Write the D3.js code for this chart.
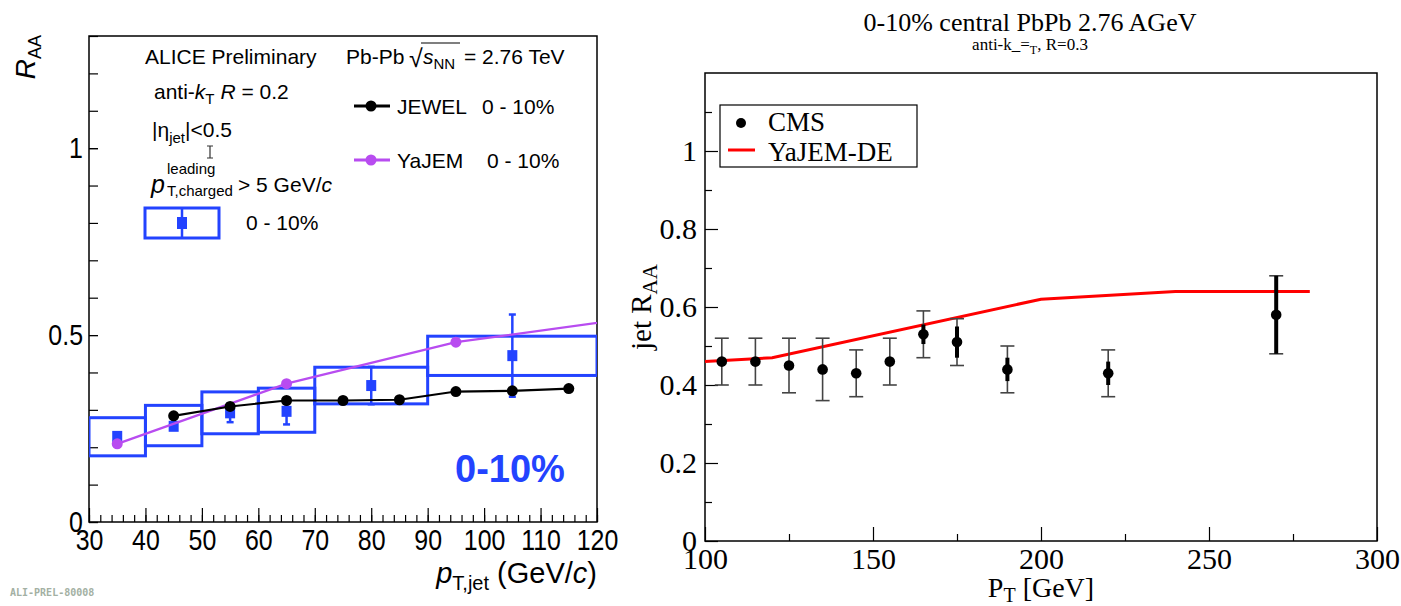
<!DOCTYPE html>
<html>
<head>
<meta charset="utf-8">
<script src="https://cdn.jsdelivr.net/npm/d3@7"></script>
<style>
  html, body { margin: 0; padding: 0; background: #fff; }
  svg { display: block; }
</style>
</head>
<body>
<svg id="chart" width="1401" height="606"></svg>
<script>
// ---------- ALICE panel data ----------
const aliceBinLo = [30, 40, 50, 60, 70, 90];
const aliceBinHi = [40, 50, 60, 70, 90, 120];
const alicePt    = [35, 45, 55, 65, 80, 105];
const aliceRaa   = [0.229, 0.256, 0.292, 0.296, 0.365, 0.445];
const aliceStat  = [0.008, 0.008, 0.025, 0.035, 0.05, 0.11];
const aliceSysLo = [0.177, 0.204, 0.236, 0.240, 0.316, 0.392];
const aliceSysHi = [0.279, 0.312, 0.348, 0.358, 0.414, 0.497];

const jewelPt  = [45, 55, 65, 75, 85, 95, 105, 115];
const jewelRaa = [0.284, 0.309, 0.325, 0.325, 0.327, 0.349, 0.351, 0.357];

const yajemPt  = [35, 65, 95, 125];
const yajemRaa = [0.209, 0.370, 0.481, 0.543];

const leftXTicks = [30, 40, 50, 60, 70, 80, 90, 100, 110, 120];
const leftYTicks = [0, 0.5, 1];

// ---------- CMS panel data ----------
const cmsPt   = [105, 115, 125, 135, 145, 155, 165, 175, 190, 220, 270];
const cmsRaa  = [0.46, 0.46, 0.45, 0.44, 0.43, 0.46, 0.53, 0.51, 0.44, 0.43, 0.58];
const cmsSys  = [0.06, 0.06, 0.07, 0.08, 0.06, 0.06, 0.06, 0.06, 0.06, 0.06, 0.10];
const cmsStat = [0.01, 0.01, 0.01, 0.01, 0.01, 0.01, 0.025, 0.04, 0.03, 0.03, 0.10];

const yajemDePt  = [100, 120, 200, 240, 280];
const yajemDeRaa = [0.46, 0.47, 0.62, 0.64, 0.64];

const rightXTicks = [100, 150, 200, 250, 300];
const rightYTicks = [0, 0.2, 0.4, 0.6, 0.8, 1];

// ---------- colours ----------
const BLUE = "#2343ff";
const VIOLET = "#b84cf0";
const RED = "#ff0000";

const svg = d3.select("#chart");
const SANS = "'Liberation Sans', Arial, Helvetica, sans-serif";
const SERIF = "'Liberation Serif', 'Times New Roman', serif";

// ======================================================
// Left panel: ALICE charged-jet RAA
// ======================================================
const xL = d3.scaleLinear().domain([30, 120]).range([89, 597]);
const yL = d3.scaleLinear().domain([0, 1.3]).range([522, 36]);
const left = svg.append("g");

left.append("clipPath").attr("id", "clipL")
  .append("rect").attr("x", xL(30)).attr("y", yL(1.3))
  .attr("width", xL(120) - xL(30)).attr("height", yL(0) - yL(1.3));

function styleAxis(g, font, size, sx) {
  g.select(".domain").remove();
  g.selectAll("line").attr("stroke", "#000").attr("stroke-width", 1.2);
  g.selectAll("text").attr("fill", "#000")
    .style("font-family", font).style("font-size", size + "px")
    .attr("transform", sx ? `scale(${sx},1)` : null);
}

// x axis (minor then major)
left.append("g").attr("transform", `translate(0,${yL(0)})`)
  .call(d3.axisBottom(xL).tickValues(d3.range(30, 121, 2)).tickSize(-7).tickFormat(""))
  .call(g => styleAxis(g, SANS, 10));
left.append("g").attr("transform", `translate(0,${yL(0)})`)
  .call(d3.axisBottom(xL).tickValues(leftXTicks).tickSize(-14).tickPadding(7).tickFormat(d3.format("d")))
  .call(g => styleAxis(g, SANS, 29, 0.86));

// y axis
left.append("g").attr("transform", `translate(${xL(30)},0)`)
  .call(d3.axisLeft(yL).tickValues(d3.range(0, 1.31, 0.1)).tickSize(-9).tickFormat(""))
  .call(g => styleAxis(g, SANS, 10));
left.append("g").attr("transform", `translate(${xL(30)},0)`)
  .call(d3.axisLeft(yL).tickValues(leftYTicks).tickSize(-9).tickPadding(7).tickFormat(d => String(d)))
  .call(g => styleAxis(g, SANS, 29, 0.86));

// frame
left.append("rect").attr("x", xL(30)).attr("y", yL(1.3))
  .attr("width", xL(120) - xL(30)).attr("height", yL(0) - yL(1.3))
  .attr("fill", "none").attr("stroke", "#000").attr("stroke-width", 1.5);

const plotL = left.append("g").attr("clip-path", "url(#clipL)");

// systematic boxes
plotL.selectAll("rect.sys").data(aliceBinLo).join("rect")
  .attr("x", (d, i) => xL(aliceBinLo[i]))
  .attr("y", (d, i) => yL(aliceSysHi[i]))
  .attr("width", (d, i) => xL(aliceBinHi[i]) - xL(aliceBinLo[i]))
  .attr("height", (d, i) => yL(aliceSysLo[i]) - yL(aliceSysHi[i]))
  .attr("fill", "none").attr("stroke", BLUE).attr("stroke-width", 3);

// data points with statistical errors
alicePt.forEach((pt, i) => {
  const cx = xL(pt);
  const g = plotL.append("g");
  g.append("line").attr("x1", cx).attr("x2", cx)
    .attr("y1", yL(aliceRaa[i] - aliceStat[i])).attr("y2", yL(aliceRaa[i] + aliceStat[i]))
    .attr("stroke", BLUE).attr("stroke-width", 2.5);
  [aliceRaa[i] - aliceStat[i], aliceRaa[i] + aliceStat[i]].forEach(v => {
    g.append("line").attr("x1", cx - 3.5).attr("x2", cx + 3.5)
      .attr("y1", yL(v)).attr("y2", yL(v)).attr("stroke", BLUE).attr("stroke-width", 2.5);
  });
  g.append("rect").attr("x", cx - 5).attr("y", yL(aliceRaa[i]) - 5.5)
    .attr("width", 10).attr("height", 11).attr("fill", BLUE);
});

const lineL = d3.line().x(d => xL(d[0])).y(d => yL(d[1]));

// YaJEM curve
plotL.append("path").datum(yajemPt.map((p, i) => [p, yajemRaa[i]]))
  .attr("d", lineL).attr("fill", "none").attr("stroke", VIOLET).attr("stroke-width", 2.2);
plotL.selectAll("circle.yajem").data(yajemPt).join("circle")
  .attr("cx", d => xL(d)).attr("cy", (d, i) => yL(yajemRaa[i])).attr("r", 5.5).attr("fill", VIOLET);

// JEWEL curve
plotL.append("path").datum(jewelPt.map((p, i) => [p, jewelRaa[i]]))
  .attr("d", lineL).attr("fill", "none").attr("stroke", "#000").attr("stroke-width", 2.2);
plotL.selectAll("circle.jewel").data(jewelPt).join("circle")
  .attr("cx", d => xL(d)).attr("cy", (d, i) => yL(jewelRaa[i])).attr("r", 5.5).attr("fill", "#000");

// text helper for the ALICE panel
function ltext(x, y, size, opts = {}) {
  const t = left.append("text")
    .attr("transform", `translate(${x},${y}) scale(${opts.sx || 1},1)`)
    .style("font-family", SANS).style("font-size", size + "px")
    .attr("fill", opts.fill || "#000");
  if (opts.anchor) t.attr("text-anchor", opts.anchor);
  if (opts.weight) t.style("font-weight", opts.weight);
  return t;
}
function span(t, str, o = {}) {
  const s = t.append("tspan").text(str);
  if (o.italic) s.style("font-style", "italic");
  if (o.size) s.style("font-size", o.size + "px");
  if (o.dy !== undefined) s.attr("dy", o.dy);
  if (o.x !== undefined) s.attr("x", o.x);
  return s;
}

// y-axis title
{
  const t = left.append("text")
    .attr("transform", "translate(35,35) rotate(-90)")
    .attr("text-anchor", "end")
    .style("font-family", SANS).style("font-size", "28px");
  span(t, "R", { italic: true });
  span(t, "AA", { size: 18, dy: 6 });
}

// x-axis title
{
  const t = ltext(597, 583, 29, { anchor: "end" });
  span(t, "p", { italic: true });
  span(t, "T,jet", { size: 20, dy: 7 });
  span(t, " (GeV/", { dy: -7 });
  span(t, "c", { italic: true });
  span(t, ")");
}

// header texts
ltext(145, 64, 21).text("ALICE Preliminary");
ltext(346, 64, 21).text("Pb-Pb");
ltext(409, 67, 25).text("\u221A");
{
  const t = ltext(423, 64, 21);
  span(t, "s", { italic: true });
  span(t, "NN", { size: 15, dy: 5 });
}
left.append("line").attr("x1", 421).attr("x2", 460).attr("y1", 43).attr("y2", 43)
  .attr("stroke", "#000").attr("stroke-width", 1.2);
ltext(464, 64, 21).text("= 2.76 TeV");

{
  const t = ltext(154, 99, 21);
  span(t, "anti-");
  span(t, "k", { italic: true });
  span(t, "T", { size: 15, dy: 5 });
  span(t, " ", { dy: -5 });
  span(t, "R", { italic: true });
  span(t, " = 0.2");
}
{
  const t = ltext(152, 137, 21);
  span(t, "|\u03B7");
  span(t, "jet", { size: 15, dy: 6 });
  span(t, "|<0.5", { dy: -6 });
}
// small error-bar glyph under the selection line
left.append("path").attr("d", "M207,146 H213 M210,146 V158 M207,158 H213")
  .attr("stroke", "#333").attr("stroke-width", 1.2).attr("fill", "none");
ltext(151, 193, 25).append("tspan").style("font-style", "italic").text("p");
ltext(167, 174, 15).text("leading");
ltext(167, 196, 15).text("T,charged");
{
  const t = ltext(238, 192, 21);
  span(t, "> 5 GeV/");
  span(t, "c", { italic: true });
}

// ALICE data legend entry
left.append("rect").attr("x", 145).attr("y", 208).attr("width", 74).attr("height", 30)
  .attr("fill", "none").attr("stroke", BLUE).attr("stroke-width", 3);
left.append("line").attr("x1", 182).attr("x2", 182).attr("y1", 208).attr("y2", 238)
  .attr("stroke", BLUE).attr("stroke-width", 2.5);
left.append("rect").attr("x", 177).attr("y", 217).attr("width", 10).attr("height", 12).attr("fill", BLUE);
ltext(246, 230, 21).text("0 - 10%");

// model legend entries
[["JEWEL", "#000", 106, 482], ["YaJEM", VIOLET, 160, 487]].forEach(([lab, col, y, xc]) => {
  left.append("line").attr("x1", 354).attr("x2", 390).attr("y1", y).attr("y2", y)
    .attr("stroke", col).attr("stroke-width", 3);
  left.append("circle").attr("cx", 371).attr("cy", y).attr("r", 5.5).attr("fill", col);
  ltext(397, y + 8, 21).text(lab);
  ltext(xc, y + 8, 21).text("0 - 10%");
});

// centrality label
ltext(455, 482, 38, { fill: BLUE, weight: "bold" }).text("0-10%");

// preliminary figure tag
svg.append("text").attr("x", 10).attr("y", 596)
  .style("font-family", "'DejaVu Sans Mono', 'Liberation Mono', monospace")
  .style("font-size", "10px").style("font-weight", "bold")
  .attr("fill", "#a3b0a3").text("ALI-PREL-80008");

// ======================================================
// Right panel: CMS jet RAA vs YaJEM-DE
// ======================================================
const xR = d3.scaleLinear().domain([100, 300]).range([705, 1377]);
const yR = d3.scaleLinear().domain([0, 1.2]).range([541, 73]);
const right = svg.append("g");

right.append("clipPath").attr("id", "clipR")
  .append("rect").attr("x", xR(100)).attr("y", yR(1.2))
  .attr("width", xR(300) - xR(100)).attr("height", yR(0) - yR(1.2));

right.append("g").attr("transform", `translate(0,${yR(0)})`)
  .call(d3.axisBottom(xR).tickValues([125, 175, 225, 275]).tickSize(-7).tickFormat(""))
  .call(g => styleAxis(g, SERIF, 10));
right.append("g").attr("transform", `translate(0,${yR(0)})`)
  .call(d3.axisBottom(xR).tickValues(rightXTicks).tickSize(-14).tickPadding(7).tickFormat(d3.format("d")))
  .call(g => styleAxis(g, SERIF, 30));

right.append("g").attr("transform", `translate(${xR(100)},0)`)
  .call(d3.axisLeft(yR).tickValues([0.1, 0.3, 0.5, 0.7, 0.9, 1.1]).tickSize(-7).tickFormat(""))
  .call(g => styleAxis(g, SERIF, 10));
right.append("g").attr("transform", `translate(${xR(100)},0)`)
  .call(d3.axisLeft(yR).tickValues(rightYTicks).tickSize(-13).tickPadding(8).tickFormat(d3.format("~g")))
  .call(g => styleAxis(g, SERIF, 30));

right.append("rect").attr("x", xR(100)).attr("y", yR(1.2))
  .attr("width", xR(300) - xR(100)).attr("height", yR(0) - yR(1.2))
  .attr("fill", "none").attr("stroke", "#000").attr("stroke-width", 1.5);

const plotR = right.append("g").attr("clip-path", "url(#clipR)");

// YaJEM-DE curve
plotR.append("path").datum(yajemDePt.map((p, i) => [p, yajemDeRaa[i]]))
  .attr("d", d3.line().x(d => xR(d[0])).y(d => yR(d[1])))
  .attr("fill", "none").attr("stroke", RED).attr("stroke-width", 3);

// CMS points: systematic bars (thin), statistical bars (thick), markers
cmsPt.forEach((pt, i) => {
  const cx = xR(pt), v = cmsRaa[i];
  const g = plotR.append("g");
  g.append("line").attr("x1", cx).attr("x2", cx)
    .attr("y1", yR(v - cmsSys[i])).attr("y2", yR(v + cmsSys[i]))
    .attr("stroke", "#444").attr("stroke-width", 1.6);
  [v - cmsSys[i], v + cmsSys[i]].forEach(e => {
    g.append("line").attr("x1", cx - 7).attr("x2", cx + 7)
      .attr("y1", yR(e)).attr("y2", yR(e)).attr("stroke", "#444").attr("stroke-width", 1.6);
  });
  g.append("line").attr("x1", cx).attr("x2", cx)
    .attr("y1", yR(v - cmsStat[i])).attr("y2", yR(v + cmsStat[i]))
    .attr("stroke", "#000").attr("stroke-width", 4);
  g.append("circle").attr("cx", cx).attr("cy", yR(v)).attr("r", 5.3).attr("fill", "#000");
});

// legend
right.append("rect").attr("x", 720).attr("y", 105).attr("width", 197).attr("height", 62)
  .attr("fill", "#fff").attr("stroke", "#000").attr("stroke-width", 1.2);
right.append("circle").attr("cx", 741).attr("cy", 123).attr("r", 5).attr("fill", "#000");
right.append("line").attr("x1", 728).attr("x2", 755).attr("y1", 150).attr("y2", 150)
  .attr("stroke", RED).attr("stroke-width", 3);
right.append("text").attr("x", 768).attr("y", 131)
  .style("font-family", SERIF).style("font-size", "27px").text("CMS");
right.append("text").attr("x", 768).attr("y", 161)
  .style("font-family", SERIF).style("font-size", "27px").text("YaJEM-DE");

// titles
right.append("text").attr("x", 1030).attr("y", 31).attr("text-anchor", "middle")
  .style("font-family", SERIF).style("font-size", "26px").text("0-10% central PbPb 2.76 AGeV");
{
  const t = right.append("text").attr("x", 1030).attr("y", 50).attr("text-anchor", "middle")
    .style("font-family", SERIF).style("font-size", "17px");
  t.append("tspan").text("anti-k_=");
  t.append("tspan").attr("dy", 4).style("font-size", "12px").text("T");
  t.append("tspan").attr("dy", -4).text(", R=0.3");
}
{
  const t = right.append("text").attr("x", xR(200)).attr("y", 597).attr("text-anchor", "middle")
    .style("font-family", SERIF).style("font-size", "28px");
  t.append("tspan").text("P");
  t.append("tspan").attr("dy", 5).style("font-size", "20px").text("T");
  t.append("tspan").attr("dy", -5).text(" [GeV]");
}
{
  const t = right.append("text")
    .attr("transform", `translate(651,${yR(0.6)}) rotate(-90)`).attr("text-anchor", "middle")
    .style("font-family", SERIF).style("font-size", "29px");
  t.append("tspan").text("jet R");
  t.append("tspan").attr("dy", 6).style("font-size", "21px").text("AA");
}
</script>
</body>
</html>
